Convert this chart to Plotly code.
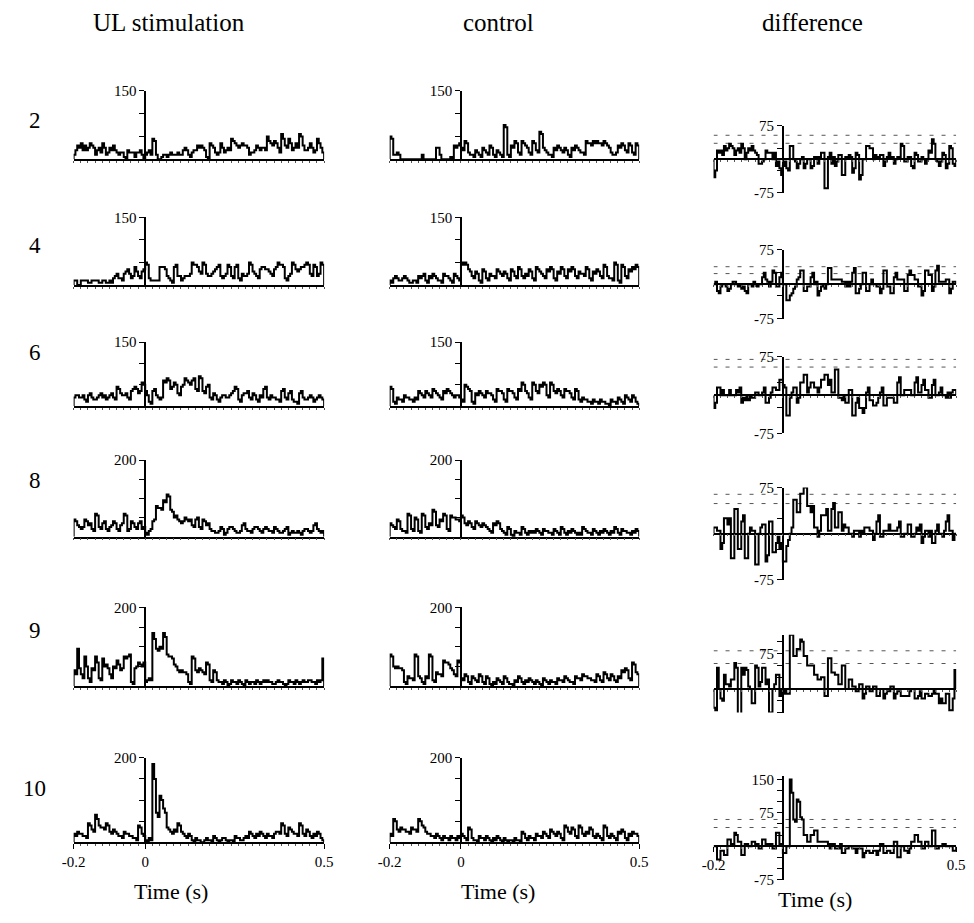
import numpy as np
import plotly.graph_objects as go

# ---------------------------------------------------------------- data
# Peri-stimulus time histograms, spikes/s, 5 ms bins from -0.2 s to 0.5 s
T0, T1, BIN_W = -0.2, 0.5, 0.005
bin_edges = np.round(np.arange(T0, T1 + BIN_W / 2, BIN_W), 4)

row_labels = ["2", "4", "6", "8", "9", "10"]
col_titles = ["UL stimulation", "control", "difference"]

ul_2 = [10, 20, 30, 25, 35, 20, 30, 20, 25, 35, 30, 25, 10, 20, 25, 15, 35, 25, 10, 15,
        25, 20, 30, 20, 15, 10, 15, 15, 5, 0, 20, 15, 15, 15, 5, 15, 15, 20, 10, 0,
        10, 15, 20, 10, 45, 40, 10, 0, 0, 5, 10, 10, 5, 10, 15, 10, 10, 10, 15, 10,
        10, 20, 25, 20, 10, 5, 15, 20, 20, 30, 25, 30, 25, 20, 5, 0, 35, 30, 25, 15,
        10, 15, 35, 25, 15, 20, 25, 20, 45, 40, 35, 30, 25, 30, 35, 30, 30, 25, 10, 15,
        15, 20, 30, 25, 20, 25, 25, 20, 50, 40, 35, 30, 40, 35, 25, 15, 55, 45, 30, 25,
        45, 35, 20, 25, 35, 25, 55, 50, 30, 20, 20, 25, 35, 25, 15, 20, 45, 35, 25, 15]
ul_4 = [10, 10, 0, 0, 10, 10, 10, 10, 5, 5, 10, 10, 10, 10, 5, 5, 10, 10, 5, 5,
        10, 5, 15, 20, 25, 15, 15, 10, 25, 30, 35, 25, 15, 20, 40, 30, 20, 15, 30, 35,
        50, 45, 15, 10, 10, 10, 10, 10, 40, 40, 40, 35, 20, 15, 10, 5, 40, 45, 20, 20,
        10, 15, 20, 20, 20, 25, 50, 45, 45, 40, 30, 25, 50, 45, 25, 20, 20, 25, 30, 35,
        40, 45, 20, 15, 20, 25, 45, 40, 20, 15, 40, 45, 15, 10, 25, 20, 20, 25, 50, 45,
        30, 25, 20, 15, 35, 40, 40, 35, 35, 30, 25, 20, 35, 40, 50, 45, 45, 40, 15, 10,
        20, 25, 50, 45, 35, 30, 35, 40, 40, 45, 50, 45, 25, 20, 45, 40, 20, 25, 50, 45]
ul_6 = [20, 25, 25, 20, 20, 25, 15, 10, 25, 30, 20, 15, 15, 20, 25, 30, 20, 25, 15, 20,
        25, 30, 20, 15, 45, 40, 30, 25, 25, 30, 20, 15, 35, 40, 45, 40, 30, 35, 55, 50,
        35, 25, 10, 5, 35, 40, 25, 20, 15, 20, 60, 55, 65, 60, 40, 45, 55, 50, 30, 25,
        45, 50, 65, 60, 55, 50, 60, 65, 40, 35, 70, 65, 35, 30, 45, 50, 20, 15, 30, 25,
        15, 10, 20, 25, 25, 20, 20, 25, 30, 35, 45, 40, 15, 10, 25, 30, 30, 35, 20, 15,
        30, 25, 15, 10, 25, 20, 40, 45, 20, 15, 25, 20, 20, 15, 15, 10, 35, 40, 20, 15,
        30, 35, 15, 10, 10, 5, 30, 35, 20, 15, 15, 20, 25, 20, 10, 15, 20, 25, 20, 15]
ul_8 = [45, 40, 30, 25, 20, 25, 45, 40, 30, 35, 20, 15, 60, 55, 25, 20, 35, 40, 20, 15,
        25, 30, 40, 35, 20, 15, 30, 35, 60, 55, 15, 20, 40, 35, 25, 20, 35, 40, 20, 25,
        10, 5, 15, 20, 40, 45, 80, 75, 75, 70, 95, 90, 110, 105, 70, 65, 50, 55, 45, 40,
        35, 40, 50, 45, 40, 45, 30, 25, 45, 50, 25, 20, 45, 40, 30, 35, 20, 15, 15, 10,
        10, 15, 25, 20, 5, 10, 20, 25, 25, 20, 15, 10, 10, 15, 30, 35, 20, 15, 15, 10,
        20, 25, 25, 20, 15, 10, 20, 25, 20, 15, 15, 10, 25, 20, 15, 10, 10, 15, 20, 25,
        5, 10, 15, 10, 10, 15, 10, 5, 15, 20, 20, 15, 10, 15, 30, 35, 20, 15, 10, 15]
ul_9 = [40, 30, 95, 45, 30, 20, 75, 50, 20, 10, 45, 40, 75, 60, 20, 15, 70, 50, 55, 45,
        30, 20, 50, 45, 65, 55, 40, 45, 75, 70, 75, 80, 10, 5, 45, 50, 60, 55, 50, 60,
        10, 15, 20, 15, 135, 120, 95, 90, 100, 95, 135, 125, 80, 75, 75, 70, 55, 50, 40, 35,
        40, 35, 35, 30, 10, 5, 75, 70, 40, 35, 45, 40, 35, 30, 60, 55, 15, 10, 40, 35,
        15, 10, 10, 5, 15, 10, 0, 5, 15, 10, 10, 5, 15, 10, 5, 0, 15, 10, 5, 10,
        10, 5, 15, 10, 5, 10, 15, 10, 15, 10, 10, 5, 5, 10, 15, 10, 10, 5, 0, 5,
        15, 10, 10, 5, 15, 10, 5, 10, 15, 10, 10, 15, 15, 10, 10, 5, 15, 10, 15, 70]
ul_10 = [20, 15, 25, 20, 20, 15, 15, 10, 45, 40, 30, 25, 65, 55, 40, 35, 35, 30, 45, 40,
         25, 20, 30, 25, 20, 15, 15, 10, 25, 20, 20, 15, 15, 10, 10, 5, 40, 35, 20, 15,
         5, 0, 10, 5, 185, 150, 70, 60, 110, 100, 80, 70, 35, 30, 25, 20, 30, 25, 45, 40,
         25, 20, 15, 10, 20, 15, 5, 0, 10, 5, 5, 0, 0, 5, 10, 5, 5, 0, 15, 10,
         5, 0, 5, 10, 10, 5, 0, 5, 5, 0, 15, 10, 10, 5, 5, 10, 15, 10, 25, 20,
         15, 10, 20, 15, 25, 20, 15, 10, 20, 15, 15, 10, 20, 25, 25, 20, 45, 40, 20, 15,
         35, 30, 25, 20, 20, 15, 45, 40, 20, 15, 30, 25, 15, 10, 20, 15, 25, 20, 10, 5]

ctrl_2 = [50, 45, 10, 10, 15, 10, 0, 0, 0, 0, 0, 0, 0, 0, 0, 0, 0, 0, 10, 0,
          0, 0, 0, 0, 0, 0, 25, 25, 10, 0, 0, 0, 0, 0, 5, 0, 30, 25, 30, 35,
          25, 20, 40, 35, 15, 10, 10, 5, 20, 15, 10, 5, 25, 20, 15, 10, 30, 25, 10, 5,
          20, 15, 10, 5, 75, 70, 10, 5, 30, 25, 40, 35, 15, 10, 40, 35, 30, 25, 15, 10,
          40, 35, 20, 15, 60, 55, 25, 20, 15, 10, 10, 5, 25, 20, 30, 25, 20, 15, 25, 20,
          10, 5, 25, 20, 30, 25, 20, 15, 15, 10, 40, 35, 35, 30, 40, 35, 40, 35, 35, 30,
          40, 35, 30, 25, 15, 10, 10, 15, 30, 25, 35, 30, 20, 15, 35, 30, 15, 10, 35, 30]
ctrl_4 = [10, 5, 15, 20, 15, 10, 10, 15, 20, 15, 10, 5, 5, 10, 10, 5, 20, 15, 20, 25,
          10, 5, 20, 15, 25, 20, 15, 10, 10, 5, 25, 20, 20, 15, 10, 5, 25, 20, 15, 10,
          50, 45, 50, 45, 35, 30, 20, 15, 30, 25, 10, 5, 35, 30, 15, 10, 25, 20, 20, 15,
          35, 30, 25, 20, 30, 25, 15, 10, 35, 30, 20, 15, 40, 35, 20, 15, 25, 20, 35, 30,
          15, 10, 40, 35, 30, 25, 20, 15, 35, 30, 40, 35, 15, 10, 30, 25, 40, 35, 20, 15,
          35, 30, 40, 35, 20, 15, 30, 25, 25, 20, 40, 35, 15, 10, 30, 25, 35, 30, 20, 15,
          45, 40, 20, 15, 15, 10, 50, 45, 10, 5, 45, 40, 20, 15, 35, 30, 40, 35, 45, 40]
ctrl_6 = [45, 40, 10, 5, 20, 15, 15, 10, 25, 20, 20, 15, 15, 10, 20, 15, 35, 30, 25, 20,
          35, 30, 25, 20, 40, 35, 30, 25, 20, 15, 35, 30, 40, 35, 30, 25, 20, 25, 25, 20,
          15, 10, 50, 45, 40, 35, 10, 5, 30, 25, 35, 30, 25, 20, 35, 30, 30, 25, 15, 10,
          40, 35, 35, 30, 15, 10, 40, 35, 35, 30, 20, 15, 40, 35, 55, 50, 35, 30, 20, 15,
          55, 50, 35, 30, 50, 45, 55, 50, 25, 20, 55, 50, 35, 30, 40, 35, 25, 20, 40, 35,
          35, 30, 20, 15, 40, 35, 15, 10, 20, 15, 15, 10, 10, 5, 15, 10, 10, 5, 15, 10,
          10, 5, 5, 0, 15, 10, 10, 5, 20, 15, 10, 5, 25, 20, 15, 10, 25, 20, 10, 5]
ctrl_8 = [35, 30, 25, 20, 45, 40, 20, 15, 15, 10, 60, 55, 20, 15, 50, 45, 15, 10, 60, 55,
          25, 20, 35, 30, 70, 65, 30, 25, 45, 40, 60, 55, 20, 15, 55, 50, 50, 45, 45, 40,
          55, 50, 35, 30, 40, 35, 25, 20, 40, 35, 30, 25, 35, 30, 25, 20, 15, 10, 35, 30,
          40, 35, 20, 15, 10, 5, 25, 20, 5, 0, 15, 10, 10, 5, 25, 20, 10, 5, 15, 10,
          15, 10, 20, 15, 10, 5, 20, 15, 15, 10, 10, 5, 20, 15, 10, 5, 25, 20, 10, 5,
          15, 10, 20, 15, 10, 5, 10, 5, 25, 20, 15, 10, 10, 5, 20, 15, 10, 5, 15, 10,
          20, 15, 10, 5, 15, 10, 25, 20, 10, 5, 20, 15, 15, 10, 10, 5, 15, 10, 20, 15]
ctrl_9 = [80, 75, 50, 45, 50, 45, 45, 40, 10, 5, 25, 20, 20, 15, 80, 75, 25, 20, 10, 5,
          25, 20, 80, 75, 15, 10, 35, 30, 30, 25, 65, 60, 60, 55, 45, 40, 30, 25, 65, 60,
          20, 15, 30, 25, 10, 5, 25, 20, 15, 10, 30, 25, 10, 5, 25, 20, 5, 0, 10, 5,
          20, 15, 10, 5, 25, 20, 10, 5, 5, 0, 15, 10, 25, 20, 10, 5, 15, 10, 20, 15,
          10, 5, 15, 10, 5, 0, 20, 15, 10, 5, 15, 10, 10, 5, 20, 15, 15, 10, 25, 20,
          15, 10, 10, 5, 25, 20, 20, 15, 30, 25, 25, 20, 20, 15, 15, 10, 30, 25, 15, 10,
          35, 30, 20, 15, 30, 25, 15, 10, 25, 20, 40, 35, 45, 40, 20, 15, 60, 55, 35, 30]
ctrl_10 = [20, 15, 55, 50, 30, 25, 35, 30, 30, 25, 25, 20, 35, 30, 30, 25, 55, 50, 40, 35,
           25, 20, 20, 15, 15, 10, 20, 15, 10, 5, 15, 10, 10, 5, 15, 10, 10, 5, 15, 10,
           20, 15, 10, 5, 35, 30, 10, 5, 5, 0, 15, 10, 10, 5, 15, 10, 5, 0, 10, 5,
           15, 10, 5, 0, 10, 5, 0, 5, 5, 0, 10, 5, 5, 0, 25, 20, 10, 5, 15, 10,
           10, 5, 20, 15, 15, 10, 25, 20, 15, 10, 30, 25, 20, 15, 25, 20, 10, 5, 40, 35,
           25, 20, 35, 30, 15, 10, 40, 35, 20, 15, 25, 20, 35, 30, 15, 10, 20, 15, 10, 5,
           40, 35, 15, 10, 20, 15, 10, 5, 25, 20, 30, 25, 10, 5, 20, 15, 25, 20, 20, 15]

ul_series = [ul_2, ul_4, ul_6, ul_8, ul_9, ul_10]
ctrl_series = [ctrl_2, ctrl_4, ctrl_6, ctrl_8, ctrl_9, ctrl_10]
for s in ul_series + ctrl_series:
    assert len(s) == len(bin_edges) - 1, len(s)

# confidence levels drawn on the difference histograms (spikes/s)
conf_upper = [54, 38, 70, 64, 81, 60]
conf_lower = [36, 23, 55, 49, 54, 42]

# ---------------------------------------------------------------- layout
W, H = 974, 923
FONT = "'Liberation Serif', 'Times New Roman', Tinos, 'DejaVu Serif', serif"

col_px = [(63, 319), (386, 641), (717, 965)]          # left/right pixel of -0.2 .. 0.5
psth_px = [(84, 154), (213, 282), (340, 405), (460, 538), (610, 690), (763, 849)]  # top/base
psth_top = [150, 150, 150, 200, 200, 200]
diff_zero_px = [154, 281, 394, 535, 693, 853]
diff_px_per75 = [34, 35, 39, 47, 36, 34]
diff_lim = [(-75, 75), (-75, 75), (-75, 75), (-75, 75), (-50, 115), (-75, 157)]

row_label_py = [114, 242, 351, 481, 633, 794]


def px_x(p):
    return p / W


def px_y(p):
    return 1 - p / H


def step_xy(vals):
    x = [T0] + list(bin_edges[:-1]) + [T1, T1]
    y = [0] + list(vals) + [vals[-1], 0]
    return x, y


fig = go.Figure()
layout = dict(
    width=W, height=H, margin=dict(l=0, r=0, t=0, b=0),
    paper_bgcolor="white", plot_bgcolor="white", showlegend=False,
    font=dict(family=FONT, color="black", size=14),
)

x_major = [round(v, 1) for v in np.arange(-0.2, 0.51, 0.1)]
x_minor = [round(v, 2) for v in np.arange(-0.2, 0.501, 0.02)]
line_w = 2.0

annotations = []
for r in range(6):
    diff_vals = [a - b for a, b in zip(ul_series[r], ctrl_series[r])]
    for c in range(3):
        k = r * 3 + c + 1
        xs = "" if k == 1 else str(k)
        xl, xr = col_px[c]
        x_dom = [px_x(xl), px_x(xr)]
        zero_pos = px_x(xl + (xr - xl) * (0 - T0) / (T1 - T0))
        last = r == 5
        if c < 2:
            top, base = psth_px[r]
            ymax = psth_top[r]
            y_dom = [px_y(base), px_y(top)]
            yrange = [0, ymax]
            ytv = list(range(50, ymax + 1, 50))
            ytt = ["" for _ in ytv[:-1]] + [str(ymax)]
            vals = ul_series[r] if c == 0 else ctrl_series[r]
            xanchor = dict(anchor="y" + xs)
            xtext = ["-0.2", "", "0", "", "", "", "", "0.5"] if last else [""] * 8
        else:
            z = diff_zero_px[r]
            kpx = diff_px_per75[r] / 75.0
            lo, hi = diff_lim[r]
            y_dom = [px_y(z - lo * kpx), px_y(z - hi * kpx)]
            yrange = [lo, hi]
            if r == 4:
                ytv = [-50, -25, 25, 50, 75, 100]
                ytt = ["", "", "", "", "75", ""]
            elif r == 5:
                ytv = [-75, -50, -25, 25, 50, 75, 100, 125, 150]
                ytt = ["-75", "", "", "", "", "75", "", "", "150"]
            else:
                ytv = [-75, -25, 25, 75]
                ytt = ["-75", "", "", "75"]
            vals = diff_vals
            xanchor = dict(anchor="free", position=px_y(z))
            xtext = ["-0.2", "", "", "", "", "", "", "0.5"] if last else [""] * 8
            for lvl in (conf_upper[r], conf_lower[r]):
                fig.add_trace(go.Scatter(
                    x=[T0, T1], y=[lvl, lvl], mode="lines",
                    line=dict(color="#555555", width=1, dash="4px,8px"),
                    xaxis="x" + xs, yaxis="y" + xs, hoverinfo="skip"))

        sx, sy = step_xy(vals)
        fig.add_trace(go.Scatter(
            x=sx, y=sy, mode="lines",
            line=dict(color="black", width=line_w, shape="hv"),
            xaxis="x" + xs, yaxis="y" + xs, hoverinfo="skip"))

        layout["xaxis" + xs] = dict(
            domain=x_dom, range=[T0, T1], showgrid=False, zeroline=False,
            showline=True, linecolor="black", linewidth=1.5,
            ticks="outside", ticklen=5, tickwidth=1.3, tickcolor="black",
            tickmode="array", tickvals=x_major, ticktext=xtext,
            tickfont=dict(family=FONT, size=15),
            minor=dict(tickmode="array", tickvals=x_minor, ticks="outside",
                       ticklen=2, tickwidth=1, tickcolor="#555555"),
            fixedrange=True, **xanchor)
        layout["yaxis" + xs] = dict(
            domain=y_dom, range=yrange, showgrid=False, zeroline=False,
            showline=True, linecolor="black", linewidth=1.5,
            anchor="free", position=zero_pos,
            ticks="outside", ticklen=5, tickwidth=1.3, tickcolor="black",
            tickmode="array", tickvals=ytv, ticktext=ytt,
            tickfont=dict(family=FONT, size=15), fixedrange=True)

# column headings
title_x = [160, 497, 818]
for c, t in enumerate(col_titles):
    annotations.append(dict(text=t, x=px_x(title_x[c]), y=px_y(15), xref="paper", yref="paper",
                            showarrow=False, xanchor="center", yanchor="middle",
                            font=dict(family=FONT, size=25)))
# row labels
for r, t in enumerate(row_labels):
    annotations.append(dict(text=t, x=px_x(23), y=px_y(row_label_py[r]), xref="paper",
                            yref="paper", showarrow=False, xanchor="center",
                            yanchor="middle", font=dict(family=FONT, size=23)))
# time axis titles
for cx, cy in [(162, 899), (497, 899), (821, 907)]:
    annotations.append(dict(text="Time (s)", x=px_x(cx), y=px_y(cy), xref="paper",
                            yref="paper", showarrow=False, xanchor="center",
                            yanchor="middle", font=dict(family=FONT, size=22)))

layout["annotations"] = annotations
fig.update_layout(**layout)
fig.write_html("out.html")
